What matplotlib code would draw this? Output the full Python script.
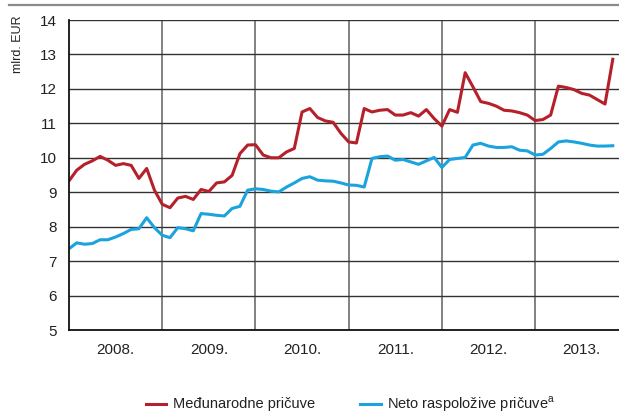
import matplotlib
matplotlib.use('Agg')
import matplotlib.pyplot as plt
import numpy as np

plt.rcParams['font.family'] = ['Liberation Sans Narrow', 'Liberation Sans', 'DejaVu Sans']
plt.rcParams['mathtext.fontset'] = 'custom'
plt.rcParams['mathtext.rm'] = 'Liberation Sans'

# monthly values, Jan 2008 - Nov 2013, bn EUR
years = ['2008.', '2009.', '2010.', '2011.', '2012.', '2013.']
medjunarodne = [
    9.33, 9.64, 9.81, 9.91, 10.04, 9.93, 9.78, 9.83, 9.78, 9.40, 9.69, 9.06,
    8.65, 8.55, 8.83, 8.88, 8.79, 9.08, 9.02, 9.27, 9.30, 9.49, 10.12, 10.37,
    10.38, 10.08, 10.00, 10.00, 10.17, 10.27, 11.33, 11.43, 11.17, 11.07, 11.03, 10.71,
    10.46, 10.43, 11.43, 11.33, 11.38, 11.40, 11.24, 11.24, 11.31, 11.21, 11.40, 11.14,
    10.92, 11.40, 11.32, 12.47, 12.06, 11.63, 11.58, 11.50, 11.38, 11.36, 11.31, 11.24,
    11.08, 11.11, 11.24, 12.08, 12.04, 11.98, 11.87, 11.82, 11.69, 11.56, 12.86,
]
neto = [
    7.36, 7.53, 7.49, 7.51, 7.62, 7.62, 7.70, 7.80, 7.92, 7.94, 8.26, 7.97,
    7.75, 7.68, 7.97, 7.94, 7.88, 8.38, 8.36, 8.33, 8.31, 8.53, 8.59, 9.06,
    9.10, 9.08, 9.03, 9.01, 9.15, 9.27, 9.40, 9.45, 9.35, 9.33, 9.32, 9.27,
    9.21, 9.20, 9.15, 9.98, 10.03, 10.05, 9.93, 9.95, 9.88, 9.81, 9.91, 10.01,
    9.72, 9.95, 9.98, 10.01, 10.37, 10.42, 10.34, 10.30, 10.30, 10.32, 10.22, 10.20,
    10.08, 10.10, 10.27, 10.46, 10.49, 10.46, 10.42, 10.37, 10.34, 10.34, 10.35,
]
months = np.arange(len(medjunarodne))

red = '#b5202a'
blue = '#1aa3dd'
txt = '#222222'

fig = plt.figure(figsize=(6.19, 4.15), dpi=100)
ax = fig.add_axes([69 / 619, 1 - 330 / 415, 1 - 69 / 619, 310 / 415])

ax.plot(months, medjunarodne, color=red, lw=2.2, solid_joinstyle='round')
ax.plot(months, neto, color=blue, lw=2.2, solid_joinstyle='round')

ax.set_xlim(0, 70.8)
ax.set_ylim(5, 14)
ax.set_yticks(range(5, 15))
ax.set_xticks(np.arange(12, 61, 12))
ax.set_xticklabels([])
ax.set_xticks(np.arange(6, 72, 12), minor=True)
ax.set_xticklabels(years, minor=True)
ax.tick_params(axis='both', which='both', length=0, labelsize=11, colors=txt)
ax.tick_params(axis='x', which='minor', pad=9)
ax.tick_params(axis='y', pad=9)

ax.grid(axis='y', color='#333333', lw=1.0)
ax.grid(axis='x', which='major', color='#777777', lw=1.3)
ax.set_axisbelow(True)
for s in ['top', 'right']:
    ax.spines[s].set_visible(False)
for s in ['left', 'bottom']:
    ax.spines[s].set_color('#111111')
    ax.spines[s].set_linewidth(1.3)

fig.text(18 / 619, 1 - 15 / 415, 'mlrd. EUR', rotation=90, ha='center', va='top',
         fontsize=9, color=txt)

# grey rule across the top
fig.add_artist(plt.Line2D([9 / 619, 1], [1 - 5 / 415, 1 - 5 / 415],
                          color='#8a8a8a', lw=1.6))

# legend row under the chart
ly = 1 - 404 / 415
fig.add_artist(plt.Line2D([146 / 619, 166 / 619], [ly, ly], color=red, lw=2.2))
fig.text(173 / 619, ly, 'Međunarodne pričuve', va='center', fontsize=10.5, color=txt)
fig.add_artist(plt.Line2D([360 / 619, 381 / 619], [ly, ly], color=blue, lw=2.2))
fig.text(387 / 619, ly, 'Neto raspoložive pričuve$^{\\mathrm{a}}$', va='center',
         fontsize=10.5, color=txt)

fig.savefig('out.png', dpi=100)
